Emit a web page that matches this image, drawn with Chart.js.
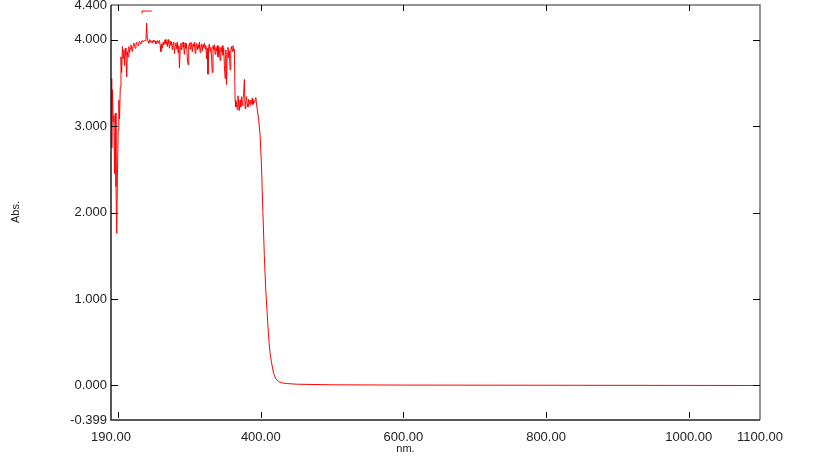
<!DOCTYPE html>
<html>
<head>
<meta charset="utf-8">
<script src="https://cdn.jsdelivr.net/npm/chart.js@4/dist/chart.umd.min.js"></script>
<style>
  body { margin: 0; background: #fff; }
  #wrap { width: 822px; height: 456px; }
</style>
</head>
<body>
<div id="wrap"><canvas id="myChart" width="822" height="456"></canvas></div>
<script>
// wavelength (nm) and absorbance
const wavelength = [
  190,191,192,193,194,195,196,197,198,199,200,201,202,203,204,205,206,207,208,209,
  210,211,212,213,214,215,216,217,218,219,220,221,222,223,224,225,226,227,228,229,
  230,231,232,233,234,235,236,237,238,239,240,241,242,243,244,245,246,247,248,249,
  250,251,252,253,254,255,256,257,258,259,260,261,262,263,264,265,266,267,268,269,
  270,271,272,273,274,275,276,277,278,279,280,281,282,283,284,285,286,287,288,289,
  290,291,292,293,294,295,296,297,298,299,300,301,302,303,304,305,306,307,308,309,
  310,311,312,313,314,315,316,317,318,319,320,321,322,323,324,325,326,327,328,329,
  330,331,332,333,334,335,336,337,338,339,340,341,342,343,344,345,346,347,348,349,
  350,351,352,353,354,355,356,357,358,359,360,361,362,363,364,365,366,367,368,369,
  370,371,372,373,374,375,376,377,378,379,380,381,382,383,384,385,386,387,388,389,
  390,391,392,393,
  395,397,399,401,403,405,407,409,411,413,415,418,421,425,430,437,450,500,600,800,
  1000,1100
]
const absorbance = [
  3.55,2.75,3.42,3.05,3.12,2.45,3.15,2.30,1.76,2.40,2.95,3.30,3.08,3.45,3.80,3.62,3.92,3.78,3.88,3.70,
  3.90,3.82,3.57,3.86,3.80,3.92,3.85,3.90,3.94,3.89,3.86,3.93,3.96,3.92,3.90,3.95,3.97,3.94,3.93,3.97,
  3.98,3.96,3.95,3.98,3.99,3.97,3.97,3.99,3.99,4.00,4.19,3.99,3.98,3.96,4.00,3.97,3.99,3.98,3.96,3.99,
  3.97,3.99,3.98,3.95,3.97,3.99,3.96,3.98,3.99,3.93,3.86,3.95,3.90,3.97,3.94,3.99,4.00,3.95,3.98,3.92,
  4.00,3.96,3.90,3.98,3.94,3.97,3.88,3.95,3.97,3.84,3.93,3.96,3.89,3.97,3.85,3.93,3.67,3.90,3.96,3.88,
  3.94,3.97,3.91,3.83,3.96,3.90,3.95,3.79,3.71,3.92,3.96,3.89,3.97,3.93,3.86,3.95,3.92,3.97,3.84,3.93,
  3.96,3.88,3.94,3.90,3.97,3.85,3.92,3.95,3.87,3.94,3.91,3.96,3.89,3.93,3.78,3.90,3.60,3.92,3.95,3.86,
  3.91,3.80,3.62,3.93,3.88,3.94,3.83,3.91,3.87,3.93,3.80,3.92,3.89,3.76,3.91,3.86,3.93,3.82,3.90,3.70,
  3.55,3.88,3.48,3.84,3.91,3.79,3.87,3.65,3.88,3.92,3.86,3.93,3.87,3.89,3.30,3.22,3.28,3.19,3.35,3.25,
  3.18,3.30,3.22,3.34,3.24,3.29,3.38,3.54,3.20,3.28,3.34,3.26,3.22,3.31,3.28,3.24,3.30,3.26,3.32,3.25,
  3.29,3.27,3.30,3.33,
  3.19,3.08,2.90,2.55,2.00,1.50,1.10,0.83,0.56,0.38,0.27,0.14,0.08,0.045,0.03,0.022,0.015,0.008,0.005,0.003,
  0.001,0.0
]
// short over-range trace near the top
const overWl = [233.5, 233.5, 247]
const overAbs = [4.30, 4.33, 4.33]

const xTicks = [200, 400, 600, 800, 1000]
const xLabels = [190, 400, 600, 800, 1000, 1100]
const yTicks = [0, 1, 2, 3, 4]
const yLabels = [-0.399, 0, 1, 2, 3, 4, 4.4]

const toPts = (xs, ys) => xs.map((v, i) => ({ x: v, y: ys[i] }))

// frame, inward tick marks and labels
const framePlugin = {
  id: 'frame',
  afterDraw(chart) {
    const c = chart.ctx
    const a = chart.chartArea
    const xs = chart.scales.x, ys = chart.scales.y
    c.save()
    // top + right (grey)
    c.strokeStyle = '#707070'
    c.lineWidth = 1.5
    c.beginPath()
    c.moveTo(a.left, a.top); c.lineTo(a.right, a.top); c.lineTo(a.right, a.bottom)
    c.stroke()
    // left + bottom (black)
    c.strokeStyle = '#222'
    c.beginPath()
    c.moveTo(a.left, a.top); c.lineTo(a.left, a.bottom); c.lineTo(a.right, a.bottom)
    c.stroke()

    c.lineWidth = 1
    c.strokeStyle = '#000'
    c.beginPath()
    for (const t of xTicks) {
      const px = Math.round(xs.getPixelForValue(t)) + 0.5
      c.moveTo(px, a.bottom - 2); c.lineTo(px, a.bottom - 8)
      c.moveTo(px, a.top); c.lineTo(px, a.top + 6)
    }
    for (const t of yTicks) {
      const py = Math.round(ys.getPixelForValue(t)) + 0.5
      c.moveTo(a.left, py); c.lineTo(a.left + 7, py)
      c.moveTo(a.right - 7, py); c.lineTo(a.right, py)
    }
    c.stroke()

    c.fillStyle = '#222'
    c.font = '13px "Liberation Sans", Arial, sans-serif'
    c.textAlign = 'center'
    c.textBaseline = 'top'
    for (const t of xLabels) {
      c.fillText(t.toFixed(2), xs.getPixelForValue(t), a.bottom + 11)
    }
    c.textAlign = 'right'
    c.textBaseline = 'middle'
    for (const t of yLabels) {
      c.fillText(t.toFixed(3), a.left - 4, ys.getPixelForValue(t))
    }

    c.font = '11px "Liberation Sans", Arial, sans-serif'
    c.textAlign = 'center'
    c.fillText('nm.', (a.left + a.right) / 2 - 30, 449)
    c.translate(16, 212)
    c.rotate(-Math.PI / 2)
    c.fillText('Abs.', 0, 0)
    c.restore()
  }
}

const ctx = document.getElementById('myChart').getContext('2d')
const myChart = new Chart(ctx, {
  type: 'line',
  data: {
    datasets: [{
      label: 'Abs',
      data: toPts(wavelength, absorbance),
      borderColor: '#ff0000',
      borderWidth: 1,
      pointRadius: 0,
      tension: 0
    }, {
      label: 'over',
      data: toPts(overWl, overAbs),
      borderColor: '#ff0000',
      borderWidth: 1,
      pointRadius: 0,
      tension: 0
    }]
  },
  options: {
    responsive: false,
    animation: false,
    layout: { padding: { left: 111, right: 62, top: 5, bottom: 36 } },
    plugins: { legend: { display: false }, tooltip: { enabled: false } },
    scales: {
      x: { type: 'linear', min: 190, max: 1100, display: false },
      y: { type: 'linear', min: -0.399, max: 4.4, display: false }
    }
  },
  plugins: [framePlugin]
})
</script>
</body>
</html>
